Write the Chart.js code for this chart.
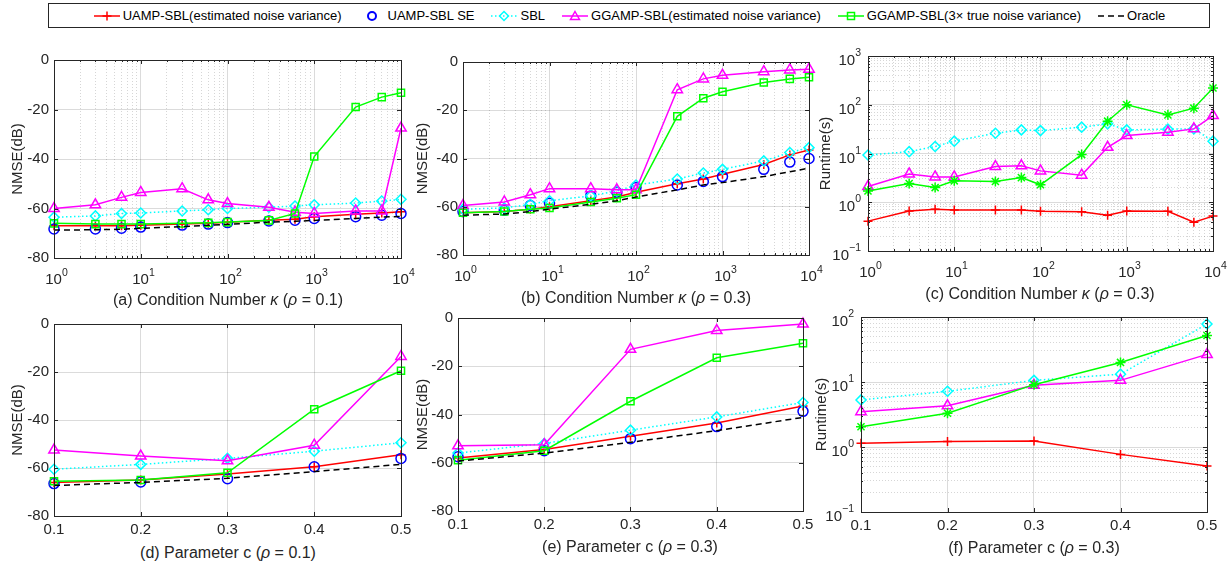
<!DOCTYPE html>
<html>
<head>
<meta charset="utf-8">
<script src="https://cdn.jsdelivr.net/npm/chart.js@4.4.1/dist/chart.umd.min.js"></script>
<style>
  body { margin: 0; background: #fff; width: 1231px; height: 565px; overflow: hidden; position: relative;
         font-family: "Liberation Sans", Arial, sans-serif; color: #262626; }
  .panel { position: absolute; }
  .cap { position: absolute; font-size: 16px; transform: translate(-50%, -50%); white-space: nowrap; }
  #legend { position: absolute; left: 48px; top: 3px; width: 1160px; height: 23px; border: 1px solid #262626;
            display: flex; align-items: center; justify-content: center; gap: 16px; font-size: 13px; color: #000; }
  .item { display: flex; align-items: center; gap: 2px; white-space: nowrap; }
  .item svg { display: block; }
</style>
</head>
<body>
<div id="legend"></div>

<script>
// x values
const kappa = [1, 3, 6, 10, 30, 60, 100, 300, 600, 1000, 3000, 6000, 10000];
const cParam = [0.1, 0.2, 0.3, 0.4, 0.5];

// (a) NMSE vs condition number, rho = 0.1
const uampA = [-67, -67, -67, -66.8, -66.3, -66, -65.6, -64.7, -64.3, -63.3, -62.3, -61.8, -61.3];
const seA = [-68.3, -68.3, -68, -67.5, -66.7, -66.3, -65.7, -65, -64.7, -64, -63.3, -62.7, -62];
const sblA = [-63.5, -63, -62, -61.8, -61, -60.5, -60, -59.5, -59, -58.5, -57.8, -57, -56.3];
const ggA = [-60, -58.5, -55.5, -53.5, -52, -56.5, -58, -59.5, -61.5, -62, -61, -61, -27.5];
const gg3A = [-66, -66.3, -66.3, -66.3, -66, -65.8, -65.5, -64.8, -62, -39, -19, -15, -13.2];
const oraA = [-68.7, -68.6, -68.4, -68, -67.3, -66.8, -66.4, -65.5, -65.2, -64.8, -64, -63.5, -63.2];

// (b) NMSE vs condition number, rho = 0.3
const uampB = [-62.5, -62, -61, -60, -57.5, -56, -54, -50.5, -48.5, -46.5, -42.5, -38.5, -36.5];
const seB = [-62, -61.5, -59.5, -58.5, -55.5, -54, -52, -51, -49.5, -47.5, -44.5, -41.5, -40];
const sblB = [-61, -60.5, -59, -57.5, -55.5, -53.5, -51, -48.5, -46, -44.5, -41, -37.5, -35.5];
const ggB = [-59.5, -58, -55, -52.5, -52.5, -53, -53, -11.5, -7, -5.5, -4, -3.3, -3];
const gg3B = [-62.5, -62, -61, -60.5, -58, -56.5, -55, -22.5, -15, -12.3, -8.5, -7, -6.3];
const oraB = [-63.5, -63, -62, -61, -59, -57.5, -56, -53, -51, -50, -47.5, -45.5, -44];

// (c) runtime vs condition number
const uampC = [0.41, 0.66, 0.72, 0.69, 0.69, 0.69, 0.65, 0.64, 0.54, 0.66, 0.65, 0.39, 0.52];
const sblC = [9.3, 10.9, 13.9, 17.9, 26, 30.5, 29.5, 34.7, 40.6, 30.5, 31.6, 32, 17.9];
const ggC = [2.1, 3.8, 3.3, 3.3, 5.4, 5.6, 4.4, 3.6, 13.4, 23.3, 27.3, 32, 60];
const gg3C = [1.71, 2.43, 2.0, 2.75, 2.67, 3.2, 2.28, 9.5, 46, 100, 62, 85, 221];

// (d) NMSE vs c, rho = 0.1
const uampD = [-66, -65, -62.5, -59.5, -54.5];
const seD = [-66.5, -65.8, -64.5, -59.5, -56];
const sblD = [-60.5, -58.5, -56, -53, -49.5];
const ggD = [-52.5, -55, -57, -50.5, -13.5];
const gg3D = [-65.5, -65, -62, -35.5, -19.5];
const oraD = [-67.3, -66, -64.3, -61.5, -58.5];

// (e) NMSE vs c, rho = 0.3
const uampE = [-58, -54.5, -49, -43.5, -36.5];
const seE = [-57.5, -55, -50, -45, -38.7];
const sblE = [-56, -52, -46.5, -41, -35];
const ggE = [-53, -52.5, -13, -5.2, -2.5];
const gg3E = [-59, -55, -34.5, -16.5, -10.5];
const oraE = [-59.3, -56, -51.5, -46.7, -41.2];

// (f) runtime vs c
const uampF = [1.14, 1.21, 1.24, 0.77, 0.51];
const sblF = [5.3, 7.2, 10.6, 13.2, 78];
const ggF = [3.5, 4.3, 8.9, 10.6, 26.6];
const gg3F = [2.05, 3.3, 9.1, 20, 52];

const nmseTicks = [-80, -60, -40, -20, 0];

const S = {
  uamp: { label: 'UAMP-SBL(estimated noise variance)', color: '#ff0000', point: 'cross', r: 4.5 },
  se:   { label: 'UAMP-SBL SE', color: '#0000ff', point: 'circle', r: 5, noLine: true },
  sbl:  { label: 'SBL', color: '#00ffff', point: 'rectRot', r: 5, dash: [1.5, 2.5] },
  gg:   { label: 'GGAMP-SBL(estimated noise variance)', color: '#ff00ff', point: 'triangle', r: 6 },
  gg3:  { label: 'GGAMP-SBL(3\u00d7 true noise variance)', color: '#00ff00', point: 'rect', r: 5 },
  ora:  { label: 'Oracle', color: '#000000', point: false, r: 0, dash: [6, 4] }
};

const FONT = '"Liberation Sans", Arial, sans-serif';

function isPow10(v) {
  const l = Math.log10(v);
  return Math.abs(l - Math.round(l)) < 1e-6;
}

function logTicks(min, max) {
  const out = [];
  for (let e = Math.floor(Math.log10(min)); e <= Math.ceil(Math.log10(max)); e++) {
    for (let m = 1; m <= 9; m++) {
      const v = m * Math.pow(10, e);
      if (v >= min * 0.999 && v <= max * 1.001) out.push({ value: v });
    }
  }
  return out;
}

function dataset(key, xs, ys, idx, pointOverride) {
  const s = S[key];
  return {
    label: s.label,
    data: xs.map((x, i) => ({ x: x, y: ys[i] })),
    borderColor: s.color,
    backgroundColor: 'transparent',
    borderWidth: 1.5,
    borderDash: s.dash || [],
    showLine: !s.noLine,
    pointStyle: pointOverride || s.point,
    pointRadius: s.r,
    pointBorderWidth: 1.5,
    pointBorderColor: s.color,
    pointBackgroundColor: 'transparent',
    clip: false,
    order: -idx
  };
}

const tickFont = { family: FONT, size: 15 };

function xAxis(kind, xH) {
  if (kind === 'log') {
    return {
      type: 'logarithmic', min: 1, max: 10000,
      afterBuildTicks: s => { s.ticks = logTicks(1, 10000); },
      afterFit: s => { s.height = xH; },
      ticks: { autoSkip: false, maxRotation: 0, callback: () => '' },
      grid: { drawTicks: false, color: ctx => (ctx.tick && isPow10(ctx.tick.value)) ? 'rgba(0,0,0,0.14)' : 'rgba(0,0,0,0.16)' },
      border: { display: false, dash: ctx => (ctx.tick && !isPow10(ctx.tick.value)) ? [1, 2] : [] }
    };
  }
  return {
    type: 'linear', min: 0.1, max: 0.5,
    afterFit: s => { s.height = xH; },
    ticks: { stepSize: 0.1, padding: 5, maxRotation: 0, color: '#262626', font: tickFont, callback: v => Number(v).toFixed(1) },
    grid: { drawTicks: false, color: 'rgba(0,0,0,0.14)' },
    border: { display: false }
  };
}

function yAxis(kind, min, max, title, titlePad, yW) {
  const t = { display: true, text: title, color: '#262626', font: tickFont, padding: { top: titlePad, bottom: 0 } };
  if (kind === 'log') {
    return {
      type: 'logarithmic', min: min, max: max,
      afterBuildTicks: s => { s.ticks = logTicks(min, max); },
      afterFit: s => { s.width = yW; },
      ticks: { autoSkip: false, callback: () => '' },
      title: t,
      grid: { drawTicks: false, color: ctx => (ctx.tick && isPow10(ctx.tick.value)) ? 'rgba(0,0,0,0.14)' : 'rgba(0,0,0,0.16)' },
      border: { display: false, dash: ctx => (ctx.tick && !isPow10(ctx.tick.value)) ? [1, 2] : [] }
    };
  }
  return {
    type: 'linear', min: min, max: max,
    afterBuildTicks: s => { s.ticks = nmseTicks.map(v => ({ value: v })); },
    afterFit: s => { s.width = yW; },
    ticks: { padding: 5, color: '#262626', font: tickFont },
    title: t,
    grid: { drawTicks: false, color: 'rgba(0,0,0,0.14)' },
    border: { display: false }
  };
}

// frame, inward ticks and 10^n labels
const framePlugin = {
  id: 'frame',
  afterDraw(chart) {
    const { ctx, chartArea: a } = chart;
    ctx.save();
    ctx.strokeStyle = '#262626';
    ctx.lineWidth = 1;
    ctx.strokeRect(Math.round(a.left) + 0.5, Math.round(a.top) + 0.5, Math.round(a.right - a.left), Math.round(a.bottom - a.top));
    ['x', 'y'].forEach(id => {
      const s = chart.scales[id];
      const isLog = s.type === 'logarithmic';
      s.ticks.forEach(t => {
        const major = !isLog || isPow10(t.value);
        const len = major ? 4 : 2;
        const p = Math.round(s.getPixelForValue(t.value)) + 0.5;
        ctx.beginPath();
        if (id === 'x') {
          ctx.moveTo(p, a.bottom); ctx.lineTo(p, a.bottom - len);
          ctx.moveTo(p, a.top); ctx.lineTo(p, a.top + len);
        } else {
          ctx.moveTo(a.left, p); ctx.lineTo(a.left + len, p);
          ctx.moveTo(a.right, p); ctx.lineTo(a.right - len, p);
        }
        ctx.stroke();
        if (isLog && major) {
          const e = String(Math.round(Math.log10(t.value))).replace('-', '\u2212');
          ctx.fillStyle = '#262626';
          ctx.textBaseline = 'alphabetic';
          ctx.textAlign = 'left';
          ctx.font = '15px ' + FONT;
          const w10 = ctx.measureText('10').width;
          ctx.font = '10.5px ' + FONT;
          const we = ctx.measureText(e).width;
          let x0, yBase;
          if (id === 'x') {
            x0 = p - (w10 + we) / 2 + 2;
            yBase = a.bottom + 26;
          } else {
            x0 = a.left - 7 - w10 - we;
            yBase = p + 8;
          }
          ctx.font = '15px ' + FONT;
          ctx.fillText('10', x0, yBase);
          ctx.font = '10.5px ' + FONT;
          ctx.fillText(e, x0 + w10, yBase - 8.5);
        }
      });
    });
    ctx.restore();
  }
};

function panel(rect, xKind, yKind, yMin, yMax, yTitle, xs, series) {
  const yW = 56, padTop = 12, padRight = 16;
  const xH = xKind === 'log' ? 34 : 26;
  const left = rect.L - yW, top = rect.T - padTop;
  const width = rect.R - rect.L + yW + padRight;
  const height = rect.B - rect.T + padTop + xH;
  const div = document.createElement('div');
  div.className = 'panel';
  div.style.left = left + 'px';
  div.style.top = top + 'px';
  const cv = document.createElement('canvas');
  cv.width = width; cv.height = height;
  cv.style.width = width + 'px'; cv.style.height = height + 'px';
  div.appendChild(cv);
  document.body.appendChild(div);
  const titlePad = rect.yt - left - 9;
  new Chart(cv.getContext('2d'), {
    type: 'line',
    data: { datasets: series.map((s, i) => dataset(s[0], xs, s[1], i, s[2])) },
    options: {
      responsive: false, animation: false, devicePixelRatio: 1,
      layout: { padding: { left: 0, top: padTop, right: padRight, bottom: 0 } },
      plugins: { legend: { display: false }, tooltip: { enabled: false } },
      elements: { line: { tension: 0 } },
      scales: { x: xAxis(xKind, xH), y: yAxis(yKind, yMin, yMax, yTitle, titlePad, yW) }
    },
    plugins: [framePlugin]
  });
}

function caption(html, x, y) {
  const d = document.createElement('div');
  d.className = 'cap';
  d.innerHTML = html;
  d.style.left = x + 'px';
  d.style.top = y + 'px';
  document.body.appendChild(d);
}

panel({ L: 54, T: 58, R: 401, B: 258, yt: 18 }, 'log', 'lin', -80, 0, 'NMSE(dB)', kappa,
  [['uamp', uampA], ['se', seA], ['sbl', sblA], ['gg', ggA], ['gg3', gg3A], ['ora', oraA]]);
panel({ L: 463, T: 60, R: 809, B: 255, yt: 423 }, 'log', 'lin', -80, 0, 'NMSE(dB)', kappa,
  [['uamp', uampB], ['se', seB], ['sbl', sblB], ['gg', ggB], ['gg3', gg3B], ['ora', oraB]]);
panel({ L: 868, T: 56, R: 1213, B: 251, yt: 826 }, 'log', 'log', 0.1, 1000, 'Runtime(s)', kappa,
  [['uamp', uampC], ['sbl', sblC], ['gg', ggC], ['gg3', gg3C, 'star']]);
panel({ L: 54, T: 322, R: 401, B: 516, yt: 18 }, 'lin', 'lin', -80, 0, 'NMSE(dB)', cParam,
  [['uamp', uampD], ['se', seD], ['sbl', sblD], ['gg', ggD], ['gg3', gg3D], ['ora', oraD]]);
panel({ L: 458, T: 316, R: 803, B: 511, yt: 423 }, 'lin', 'lin', -80, 0, 'NMSE(dB)', cParam,
  [['uamp', uampE], ['se', seE], ['sbl', sblE], ['gg', ggE], ['gg3', gg3E], ['ora', oraE]]);
panel({ L: 861, T: 317, R: 1207, B: 512, yt: 822 }, 'lin', 'log', 0.1, 100, 'Runtime(s)', cParam,
  [['uamp', uampF], ['sbl', sblF], ['gg', ggF], ['gg3', gg3F, 'star']]);

caption('(a) Condition Number <i>\u03ba</i> (<i>\u03c1</i> = 0.1)', 228, 300);
caption('(b) Condition Number <i>\u03ba</i> (<i>\u03c1</i> = 0.3)', 636, 298);
caption('(c) Condition Number <i>\u03ba</i> (<i>\u03c1</i> = 0.3)', 1040, 294);
caption('(d) Parameter c (<i>\u03c1</i> = 0.1)', 228, 553);
caption('(e) Parameter c (<i>\u03c1</i> = 0.3)', 630, 547);
caption('(f) Parameter c (<i>\u03c1</i> = 0.3)', 1034, 548);

// legend
function symbol(s) {
  const c = s.color;
  let line = '';
  if (!s.noLine) {
    const dash = s.dash ? ` stroke-dasharray="${s.dash.join(' ')}"` : '';
    line = `<line x1="1" y1="7" x2="27" y2="7" stroke="${c}" stroke-width="1.5"${dash}/>`;
  }
  let m = '';
  if (s.point === 'cross') m = `<path d="M14 2.5V11.5M9.5 7H18.5" stroke="${c}" stroke-width="1.5"/>`;
  if (s.point === 'circle') m = `<circle cx="14" cy="7" r="4" fill="none" stroke="${c}" stroke-width="2"/>`;
  if (s.point === 'rectRot') m = `<path d="M14 2.5L18.5 7L14 11.5L9.5 7Z" fill="none" stroke="${c}" stroke-width="1.5"/>`;
  if (s.point === 'triangle') m = `<path d="M14 2.5L18.5 10.5H9.5Z" fill="none" stroke="${c}" stroke-width="1.5"/>`;
  if (s.point === 'rect') m = `<rect x="10.5" y="3.5" width="7" height="7" fill="none" stroke="${c}" stroke-width="1.5"/>`;
  return `<svg width="28" height="14">${line}${m}</svg>`;
}
const leg = document.getElementById('legend');
['uamp', 'se', 'sbl', 'gg', 'gg3', 'ora'].forEach(k => {
  const it = document.createElement('div');
  it.className = 'item';
  it.innerHTML = symbol(S[k]) + '<span>' + S[k].label + '</span>';
  leg.appendChild(it);
});
</script>
</body>
</html>
